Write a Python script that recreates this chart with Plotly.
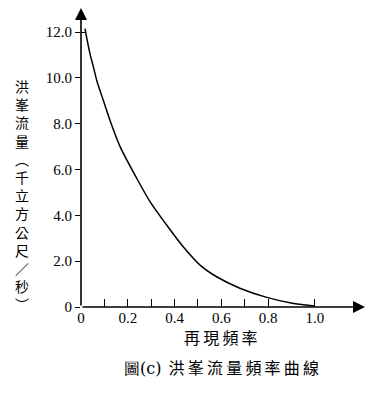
import plotly.graph_objects as go

# Data
freq = [0.017, 0.038, 0.053, 0.067, 0.095, 0.131, 0.167, 0.238, 0.295, 0.366,
        0.437, 0.509, 0.58, 0.679, 0.794, 0.893, 0.997]
flow = [12.15, 11.07, 10.48, 9.9, 9.03, 7.94, 7.0, 5.62, 4.6, 3.58,
        2.63, 1.83, 1.32, 0.82, 0.42, 0.19, 0.04]

x_tickvals = [0, 0.1, 0.2, 0.3, 0.4, 0.5, 0.6, 0.7, 0.8, 1.0]
x_ticktext = ["0", "", "0.2", "", "0.4", "", "0.6", "", "0.8", "1.0"]
y_tickvals = [0, 2, 4, 6, 8, 10, 12]
y_ticktext = ["0", "2.0", "4.0", "6.0", "8.0", "10.0", "12.0"]

y_title = "洪峯流量︵千立方公尺／秒︶"
x_title = "再現頻率"
caption_a = "圖(c)"
caption_b = "洪峯流量頻率曲線"

X_MAX = 1.214
Y_MAX = 13.05

CJK = "Noto Sans CJK TC"
THIN = "\u2009"

fig = go.Figure()
fig.add_trace(go.Scatter(
    x=freq, y=flow, mode="lines",
    line=dict(color="black", width=1.5, shape="spline", smoothing=0.8),
    showlegend=False, hoverinfo="skip"))

fig.update_layout(
    width=375, height=386,
    margin=dict(l=73, r=18, t=0, b=87),
    paper_bgcolor="white", plot_bgcolor="white",
    font=dict(family="Liberation Serif", size=15, color="black"),
    xaxis=dict(range=[0, X_MAX], showgrid=False, zeroline=False, showline=False,
               tickmode="array", tickvals=x_tickvals, ticktext=x_ticktext,
               ticks="inside", ticklen=8, tickwidth=1.3, tickcolor="black",
               tickfont=dict(family="Liberation Serif", size=15, color="black")),
    yaxis=dict(range=[0, Y_MAX], showgrid=False, zeroline=False, showline=False,
               tickmode="array", tickvals=y_tickvals, ticktext=y_ticktext,
               ticks="outside", ticklen=5, tickwidth=1.3, tickcolor="black",
               tickfont=dict(family="Times New Roman", size=15, color="black"),
               minor=dict(ticks="inside", tickvals=[12], ticklen=5,
                          tickwidth=1.3, tickcolor="black", showgrid=False)),
)

# axis lines with arrowheads
fig.add_annotation(x=X_MAX, y=0, ax=0, ay=0, xref="x", yref="y", axref="x", ayref="y",
                   text="", showarrow=True, arrowhead=2, arrowsize=1.5,
                   arrowwidth=1.6, arrowcolor="black")
fig.add_annotation(x=0, y=Y_MAX, ax=0, ay=0, xref="x", yref="y", axref="x", ayref="y",
                   text="", showarrow=True, arrowhead=2, arrowsize=1.5,
                   arrowwidth=1.6, arrowcolor="black")

# vertical y title
fig.add_annotation(text="<br>".join(list(y_title)), xref="paper", yref="paper",
                   x=0, y=0.5, xshift=-59, yshift=-37, showarrow=False,
                   font=dict(family=CJK, size=14, color="black"),
                   xanchor="center", yanchor="middle", align="center")

# x title
fig.add_annotation(text=THIN.join(list(x_title)), xref="x", yref="paper",
                   x=0.6, y=0, yshift=-30, showarrow=False,
                   font=dict(family=CJK, size=16, color="black"),
                   xanchor="center", yanchor="middle")

# caption
fig.add_annotation(text="<span style='font-family:DejaVu Serif'>" + caption_a + "</span>"
                   + "\u00a0\u00a0" + THIN.join(list(caption_b)),
                   xref="x", yref="paper",
                   x=0.6, y=0, yshift=-60, showarrow=False,
                   font=dict(family=CJK, size=16, color="black"),
                   xanchor="center", yanchor="middle")

fig.write_html("out.html")
